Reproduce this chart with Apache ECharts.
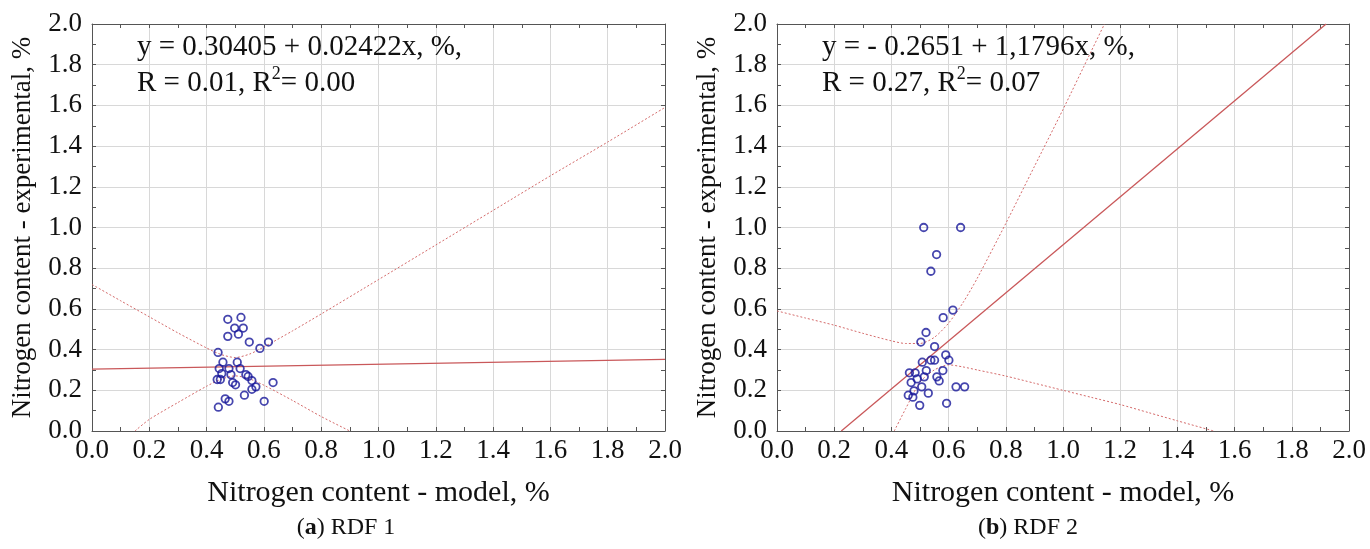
<!DOCTYPE html>
<html><head><meta charset="utf-8">
<script src="https://cdn.jsdelivr.net/npm/echarts@6/dist/echarts.min.js"></script>
<style>html,body{margin:0;padding:0;background:#fff}#c{width:1370px;height:549px}</style>
</head><body><div id="c"></div>
<script>
// ---------- DATA ----------
const axisMin = 0, axisMax = 2, axisStep = 0.2;
const xTitle = 'Nitrogen content - model, %';
const yTitle = 'Nitrogen content - experimental, %';

// Panel (a) RDF 1 : scatter points [model, experimental]
const rdf1Points = [
  [0.474,0.549],[0.520,0.558],[0.498,0.506],[0.528,0.506],[0.474,0.465],[0.511,0.476],
  [0.549,0.437],[0.616,0.437],[0.586,0.406],[0.440,0.386],[0.457,0.338],[0.507,0.338],
  [0.444,0.307],[0.478,0.307],[0.517,0.307],[0.453,0.282],[0.485,0.277],[0.537,0.277],
  [0.545,0.268],[0.437,0.253],[0.448,0.253],[0.558,0.248],[0.491,0.238],[0.501,0.227],
  [0.632,0.238],[0.572,0.217],[0.558,0.205],[0.532,0.176],[0.465,0.158],[0.478,0.146],
  [0.601,0.146],[0.441,0.117]
];
const rdf1Fit = [[0,0.304],[2,0.352]];
const rdf1Upper = [[0,0.72],[0.1,0.64],[0.2,0.561],[0.3,0.482],[0.4,0.408],[0.45,0.376],[0.5,0.361],
  [0.55,0.378],[0.6,0.413],[0.7,0.492],[0.8,0.575],[1.0,0.744],[1.2,0.914],[1.4,1.084],[1.6,1.254],[1.8,1.42],[2.0,1.59]];
const rdf1Lower = [[0.15,0.0],[0.2,0.057],[0.3,0.14],[0.4,0.22],[0.45,0.254],[0.5,0.271],[0.55,0.256],
  [0.6,0.225],[0.7,0.15],[0.8,0.071],[0.9,0.0]];
const rdf1Eq = ['y = 0.30405 + 0.02422x, %,', 'R = 0.01, R', '2', '= 0.00'];

// Panel (b) RDF 2
const rdf2Points = [
  [0.513,1.000],[0.642,1.000],[0.558,0.867],[0.538,0.785],[0.615,0.594],[0.581,0.557],
  [0.521,0.484],[0.503,0.437],[0.551,0.415],[0.590,0.374],[0.601,0.348],[0.538,0.348],
  [0.551,0.348],[0.508,0.338],[0.463,0.286],[0.483,0.286],[0.522,0.297],[0.580,0.297],
  [0.490,0.256],[0.515,0.266],[0.559,0.266],[0.567,0.246],[0.469,0.238],[0.506,0.217],
  [0.626,0.217],[0.656,0.217],[0.479,0.197],[0.459,0.176],[0.475,0.166],[0.529,0.186],
  [0.499,0.126],[0.593,0.136]
];
const rdf2Fit = [[0.2248,0],[1.92,2.0]];
const rdf2Upper = [[0,0.59],[0.1,0.555],[0.2,0.52],[0.3,0.48],[0.4,0.443],[0.45,0.43],[0.5,0.43],
  [0.55,0.46],[0.6,0.53],[0.65,0.63],[0.7,0.75],[0.8,1.02],[0.9,1.30],[1.0,1.58],[1.1,1.87],[1.145,2.0]];
const rdf2Lower = [[0.41,0.0],[0.45,0.11],[0.5,0.24],[0.55,0.30],[0.6,0.325],[0.65,0.315],[0.7,0.30],
  [0.8,0.27],[0.9,0.235],[1.0,0.20],[1.1,0.165],[1.2,0.13],[1.3,0.09],[1.4,0.05],[1.527,0.0]];
const rdf2Eq = ['y = - 0.2651 + 1,1796x, %,', 'R = 0.27, R', '2', '= 0.07'];

const captions = [['a', ' RDF 1'], ['b', ' RDF 2']];

// ---------- STYLE / LAYOUT ----------
const SERIF = '"Liberation Serif","Times New Roman",serif';
const grids = [
  {left: 92, right: 705, top: 24, bottom: 118},
  {left: 777, right: 21, top: 24, bottom: 118}
];
const frameColor = '#555';
const gridColor = '#d8d8d8';

function xAxes(gi) {
  return [{
    gridIndex: gi, type: 'value', min: axisMin, max: axisMax, interval: axisStep,
    position: 'bottom',
    axisLine: {show: true, onZero: false, lineStyle: {color: frameColor, width: 1}},
    axisTick: {show: true, inside: true, length: 4, lineStyle: {color: frameColor}},
    minorTick: {show: true, splitNumber: 2, length: 4, lineStyle: {color: frameColor}},
    axisLabel: {fontFamily: SERIF, fontSize: 27, color: '#111', margin: 6, formatter: v => v.toFixed(1)},
    splitLine: {show: true, lineStyle: {color: gridColor, width: 1}},
    name: xTitle, nameLocation: 'middle', nameGap: 47,
    nameTextStyle: {fontFamily: SERIF, fontSize: 30, color: '#111'}
  }, {
    gridIndex: gi, type: 'value', min: axisMin, max: axisMax, interval: axisStep,
    position: 'top',
    axisLine: {show: true, onZero: false, lineStyle: {color: frameColor, width: 1}},
    axisTick: {show: true, inside: true, length: 4, lineStyle: {color: frameColor}},
    minorTick: {show: true, splitNumber: 2, length: 4, lineStyle: {color: frameColor}},
    axisLabel: {show: false}, splitLine: {show: false}
  }];
}
function yAxes(gi) {
  return [{
    gridIndex: gi, type: 'value', min: axisMin, max: axisMax, interval: axisStep,
    position: 'left',
    axisLine: {show: true, onZero: false, lineStyle: {color: frameColor, width: 1}},
    axisTick: {show: true, inside: true, length: 4, lineStyle: {color: frameColor}},
    minorTick: {show: true, splitNumber: 2, length: 4, lineStyle: {color: frameColor}},
    axisLabel: {fontFamily: SERIF, fontSize: 27, color: '#111', margin: 10, formatter: v => v.toFixed(1)},
    splitLine: {show: true, lineStyle: {color: gridColor, width: 1}},
    name: yTitle, nameLocation: 'middle', nameGap: 56,
    nameTextStyle: {fontFamily: SERIF, fontSize: 27, color: '#111'}
  }, {
    gridIndex: gi, type: 'value', min: axisMin, max: axisMax, interval: axisStep,
    position: 'right',
    axisLine: {show: true, onZero: false, lineStyle: {color: frameColor, width: 1}},
    axisTick: {show: true, inside: true, length: 4, lineStyle: {color: frameColor}},
    minorTick: {show: true, splitNumber: 2, length: 4, lineStyle: {color: frameColor}},
    axisLabel: {show: false}, splitLine: {show: false}
  }];
}

function panelSeries(gi, pts, fit, up, low) {
  const xi = gi * 2, yi = gi * 2;
  const band = (d) => ({
    type: 'line', xAxisIndex: xi, yAxisIndex: yi, data: d, smooth: 0.25,
    symbol: 'none', silent: true,
    lineStyle: {color: '#d46a6a', width: 1, type: [2, 2]}
  });
  return [
    band(up), band(low),
    {type: 'line', xAxisIndex: xi, yAxisIndex: yi, data: fit, symbol: 'none', silent: true,
     lineStyle: {color: '#c9585a', width: 1.3}},
    {type: 'scatter', xAxisIndex: xi, yAxisIndex: yi, data: pts, symbol: 'circle', symbolSize: 7.5,
     itemStyle: {color: 'rgba(0,0,0,0)', borderColor: '#18189a', borderWidth: 1.8}, z: 5}
  ];
}

function eqGraphic(left, eq) {
  return {
    type: 'text', left: left, top: 29, z: 10,
    style: {
      text: eq[0] + '\n{b|' + eq[1] + '}{s|' + eq[2] + '}{b|' + eq[3] + '}',
      fontFamily: SERIF, fontSize: 29, fill: '#111', lineHeight: 36,
      rich: {
        b: {fontFamily: SERIF, fontSize: 29, fill: '#111', lineHeight: 36},
        s: {fontFamily: SERIF, fontSize: 18, fill: '#111', verticalAlign: 'top', lineHeight: 36, padding: [0, 0, 10, 0]}
      }
    }
  };
}
function capGraphic(cx, cap) {
  return {
    type: 'text', x: cx, y: 528, z: 10,
    style: {
      text: '({a|' + cap[0] + '})' + cap[1],
      fontFamily: '"Liberation Serif",serif', fontSize: 24, fill: '#111',
      align: 'center', verticalAlign: 'middle',
      rich: {a: {fontFamily: '"Liberation Serif",serif', fontSize: 24, fontWeight: 'bold', fill: '#111'}}
    }
  };
}

const chart = echarts.init(document.getElementById('c'), null, {renderer: 'canvas'});
chart.setOption({
  animation: false,
  backgroundColor: '#fff',
  grid: grids,
  xAxis: [...xAxes(0), ...xAxes(1)],
  yAxis: [...yAxes(0), ...yAxes(1)],
  series: [
    ...panelSeries(0, rdf1Points, rdf1Fit, rdf1Upper, rdf1Lower),
    ...panelSeries(1, rdf2Points, rdf2Fit, rdf2Upper, rdf2Lower)
  ],
  graphic: [
    eqGraphic(137, rdf1Eq), eqGraphic(822, rdf2Eq),
    capGraphic(346, captions[0]), capGraphic(1028, captions[1])
  ]
});
</script></body></html>
